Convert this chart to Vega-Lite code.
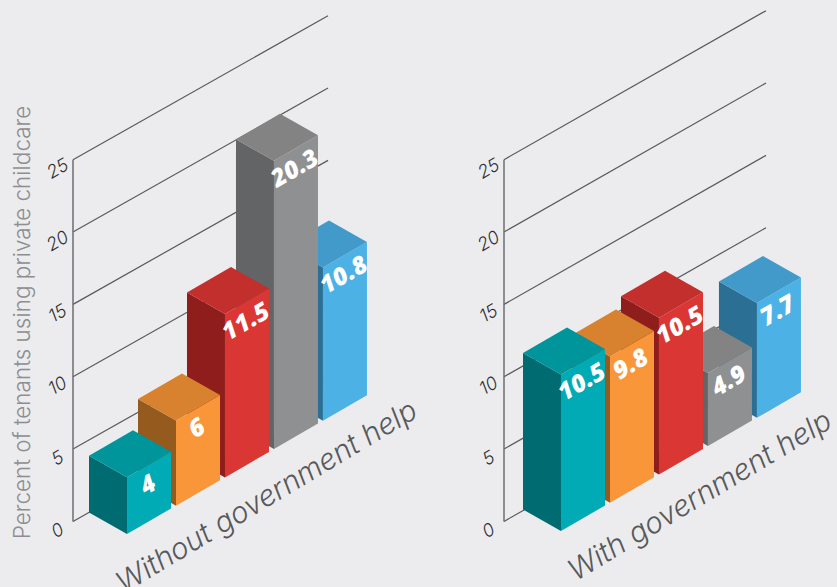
{
  "$schema": "https://vega.github.io/schema/vega-lite/v6.json",
  "width": 837,
  "height": 587,
  "padding": 0,
  "autosize": {"type": "none"},
  "background": "#ECECEE",
  "config": {"view": {"stroke": null}},
  "datasets": {
    "bars": [
      {"panel": "Without government help", "series": "E", "slot": 4, "value": 10.8},
      {"panel": "Without government help", "series": "D", "slot": 3, "value": 20.3},
      {"panel": "Without government help", "series": "C", "slot": 2, "value": 11.5},
      {"panel": "Without government help", "series": "B", "slot": 1, "value": 6},
      {"panel": "Without government help", "series": "A", "slot": 0, "value": 4},
      {"panel": "With government help", "series": "E", "slot": 4, "value": 7.7},
      {"panel": "With government help", "series": "D", "slot": 3, "value": 4.9},
      {"panel": "With government help", "series": "C", "slot": 2, "value": 10.5},
      {"panel": "With government help", "series": "B", "slot": 1, "value": 9.8},
      {"panel": "With government help", "series": "A", "slot": 0, "value": 10.5}
    ],
    "ticks": [
      {"panel": "Without government help", "tick": 0},
      {"panel": "Without government help", "tick": 5},
      {"panel": "Without government help", "tick": 10},
      {"panel": "Without government help", "tick": 15},
      {"panel": "Without government help", "tick": 20},
      {"panel": "Without government help", "tick": 25},
      {"panel": "With government help", "tick": 0},
      {"panel": "With government help", "tick": 5},
      {"panel": "With government help", "tick": 10},
      {"panel": "With government help", "tick": 15},
      {"panel": "With government help", "tick": 20},
      {"panel": "With government help", "tick": 25}
    ],
    "panels": [
      {"panel": "Without government help"},
      {"panel": "With government help"}
    ]
  },
  "encoding": {
    "x": {"field": "px", "type": "quantitative", "axis": null, "scale": {"domain": [0, 58.944], "nice": false, "zero": false}},
    "y": {
      "field": "py",
      "type": "quantitative",
      "scale": {"domain": [-3.732, 37.606], "nice": false, "zero": false},
      "axis": {
        "title": "Percent of tenants using private childcare",
        "domain": false, "ticks": false, "labels": false, "grid": false,
        "titleX": 22, "titleY": 322, "titleAngle": -90, "titleAlign": "center", "titleBaseline": "middle",
        "titleFont": "Inter", "titleFontWeight": 300, "titleFontSize": 22.5, "titleColor": "#8C8E90"
      }
    }
  },
  "layer": [
    {
      "data": {"name": "ticks"},
      "transform": [
        {"calculate": "datum.panel === 'With government help' ? 35.493 : 5.141", "as": "px"},
        {"calculate": "0.887 + datum.tick * 1.019", "as": "py"},
        {"calculate": "datum.px + (datum.panel === 'With government help' ? 18.451 : 17.958)", "as": "px2"},
        {"calculate": "datum.py + (datum.panel === 'With government help' ? 10.493 : 10.141)", "as": "py2"}
      ],
      "mark": {"type": "rule", "color": "#58595B", "strokeWidth": 1.2},
      "encoding": {"x2": {"field": "px2"}, "y2": {"field": "py2"}}
    },
    {
      "data": {"name": "ticks"},
      "transform": [
        {"calculate": "datum.panel === 'With government help' ? 35.493 : 5.141", "as": "px"},
        {"calculate": "0.887 + datum.tick * 1.019", "as": "py"}
      ],
      "mark": {"type": "line", "color": "#6D6E70", "strokeWidth": 1.5},
      "encoding": {"detail": {"field": "panel"}, "order": {"field": "tick"}}
    },
    {
      "data": {"name": "ticks"},
      "transform": [
        {"calculate": "(datum.panel === 'With government help' ? 35.493 : 5.141) - 1.05", "as": "px"},
        {"calculate": "0.887 + datum.tick * 1.019 - 0.7", "as": "py"}
      ],
      "mark": {"type": "text", "font": "Inter", "fontStyle": "italic", "fontWeight": 300, "fontSize": 18, "angle": 330, "color": "#2E2E30", "align": "center", "baseline": "middle"},
      "encoding": {"text": {"field": "tick"}}
    },
    {
      "data": {"name": "bars"},
      "transform": [
        {"calculate": "[{f:'left',a:0,b:0,h:0},{f:'left',a:1,b:0,h:0},{f:'left',a:1,b:0,h:1},{f:'left',a:0,b:0,h:1},{f:'right',a:0,b:0,h:0},{f:'right',a:0,b:1,h:0},{f:'right',a:0,b:1,h:1},{f:'right',a:0,b:0,h:1},{f:'top',a:0,b:0,h:1},{f:'top',a:1,b:0,h:1},{f:'top',a:1,b:1,h:1},{f:'top',a:0,b:1,h:1}]", "as": "corners"},
        {"flatten": ["corners"], "as": ["c"]},
        {"window": [{"op": "row_number", "as": "seq"}]},
        {"calculate": "datum.panel === 'With government help' ? 1.05 : 1", "as": "k"},
        {"calculate": "(datum.panel === 'With government help' ? 39.507 : 8.944) + datum.slot * 3.45 - 2.676 * datum.c.a + 3.099 * datum.c.b", "as": "px"},
        {"calculate": "(datum.panel === 'With government help' ? 0.211 : 0) + datum.slot * 1.993 + 1.514 * datum.c.a + 1.796 * datum.c.b + datum.c.h * datum.value * datum.k", "as": "py"},
        {"calculate": "datum.series + '-' + datum.c.f", "as": "tone"},
        {"calculate": "datum.panel + datum.slot + datum.c.f", "as": "faceId"}
      ],
      "mark": {"type": "line", "filled": true, "strokeWidth": 0, "interpolate": "linear-closed"},
      "encoding": {
        "fill": {
          "field": "tone",
          "type": "nominal",
          "legend": null,
          "scale": {
            "domain": ["A-left", "A-right", "A-top", "B-left", "B-right", "B-top", "C-left", "C-right", "C-top", "D-left", "D-right", "D-top", "E-left", "E-right", "E-top"],
            "range": ["#006B70", "#00ABB5", "#00959B", "#955A1D", "#F9963A", "#D8822F", "#8F1D1B", "#DA3634", "#C22F2D", "#636466", "#8F9091", "#838383", "#2C6F94", "#4CB2E5", "#429ACB"]
          }
        },
        "detail": {"field": "faceId"},
        "order": {"field": "seq"}
      }
    },
    {
      "data": {"name": "bars"},
      "transform": [
        {"calculate": "datum.panel === 'With government help' ? 1.05 : 1", "as": "k"},
        {"calculate": "(datum.panel === 'With government help' ? 39.507 : 8.944) + datum.slot * 3.45 + 1.5", "as": "px"},
        {"calculate": "(datum.panel === 'With government help' ? 0.211 : 0) + datum.slot * 1.993 + 0.898 + datum.value * datum.k - 1.5", "as": "py"}
      ],
      "mark": {"type": "text", "font": "Open Sans", "fontStyle": "italic", "fontWeight": 800, "fontSize": 24.5, "angle": 330, "color": "#FFFFFF", "align": "center", "baseline": "middle"},
      "encoding": {"text": {"field": "value", "type": "quantitative"}}
    },
    {
      "data": {"name": "panels"},
      "transform": [
        {"calculate": "(datum.panel === 'With government help' ? 39.507 : 9.0) + 9.8", "as": "px"},
        {"calculate": "(datum.panel === 'With government help' ? 0.12 : 0.05) + 2.55", "as": "py"}
      ],
      "mark": {"type": "text", "font": "Inter", "fontStyle": "italic", "fontWeight": 300, "fontSize": 29.5, "angle": 329, "color": "#58595B", "align": "center", "baseline": "middle"},
      "encoding": {"text": {"field": "panel"}}
    }
  ]
}
